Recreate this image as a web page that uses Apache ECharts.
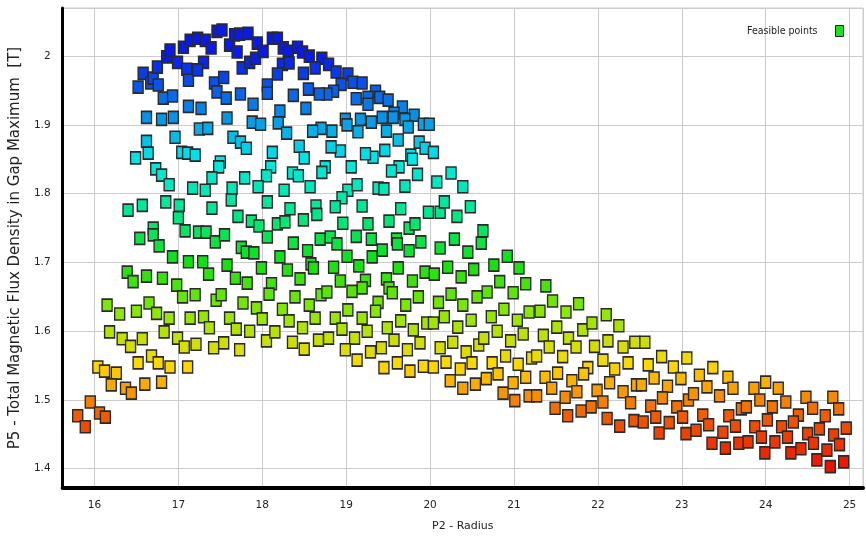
<!DOCTYPE html>
<html style="height: 100%">
<head>
<meta charset="utf-8">
<script src="https://cdn.jsdelivr.net/npm/echarts@6/dist/echarts.min.js"></script>
</head>
<body style="height: 100%; margin: 0; background: #fff">
<div id="main" style="width: 866px; height: 539px"></div>
<script type="text/javascript">
// [P2 - Radius, P5 - Flux density]
var leftTop = [
  [16.52,1.955],[16.58,1.975],[16.67,1.961],[16.70,1.968],[16.76,1.958],[16.75,1.984],[16.82,1.939],[16.93,1.942],
  [16.86,1.999],[16.90,2.009],[16.99,1.991],[17.06,2.013],[17.10,1.981],[17.12,1.965],[17.14,2.023],[17.23,2.026],
  [17.30,1.991],[17.23,1.980],[17.32,2.023],[17.39,2.012],[17.46,2.036],[17.52,2.038],[17.43,1.961],[17.46,1.948],
  [17.54,1.969],[17.57,1.939],[17.61,2.016],[17.67,2.031],[17.73,2.032],[17.83,2.033],[17.70,2.006],[17.76,1.983],
  [17.85,1.991],[17.92,1.997],[17.94,2.019],[18.01,2.007],[17.74,1.945],[17.89,1.930],[17.12,1.927],[17.27,1.924],
  [16.62,1.911],[16.80,1.908],[16.94,1.911],[17.25,1.894],[17.35,1.895],[17.58,1.910],[17.88,1.904],[17.98,1.901],
  [16.96,1.882],[16.62,1.876],[16.64,1.859],[16.49,1.852],[17.04,1.860],[17.11,1.859],[17.20,1.856],[17.65,1.882],
  [17.74,1.875],[17.81,1.866],[17.50,1.846],[17.48,1.839],[17.40,1.823],[16.73,1.836],[16.80,1.827],[17.79,1.823]
];
var rightTop = [
  [18.12,2.026],[18.18,2.026],[18.25,2.012],[18.31,2.007],[18.42,2.013],[18.48,2.006],[18.56,2.000],[18.71,1.997],
  [18.24,1.988],[18.32,1.990],[18.18,1.974],[18.49,1.975],[18.63,1.983],[18.79,1.988],[18.88,1.977],[19.02,1.974],
  [18.94,1.959],[19.08,1.962],[19.19,1.961],[18.85,1.949],[18.77,1.945],[18.68,1.945],[18.55,1.952],[18.37,1.943],
  [18.06,1.958],[18.06,1.946],[19.35,1.949],[19.40,1.940],[19.50,1.936],[19.26,1.940],[19.26,1.930],[19.12,1.938],
  [19.67,1.926],[19.57,1.917],[19.81,1.914],[19.70,1.908],[19.92,1.901],[19.99,1.901],[19.74,1.897],[19.56,1.911],
  [19.43,1.911],[19.30,1.904],[19.17,1.908],[18.99,1.908],[19.01,1.900],[19.14,1.890],[19.48,1.891],[18.83,1.891],
  [18.70,1.895],[18.60,1.891],[18.52,1.924],[18.21,1.920],[18.19,1.903],[18.29,1.888],[19.62,1.878],[19.87,1.875],
  [19.94,1.866],[20.04,1.860],[19.77,1.856],[19.79,1.850],[19.46,1.863],[19.32,1.853],[19.23,1.858],[18.93,1.862],
  [18.82,1.868],[18.44,1.869],[18.50,1.852],[18.12,1.860],[18.10,1.839],[18.75,1.839],[18.71,1.831],[19.06,1.839],
  [19.63,1.839],[19.54,1.833],[19.85,1.828],[18.36,1.830],[18.43,1.826],[18.05,1.826],[20.08,1.817]
];
var leftMid = [
  [16.89,1.813],[17.17,1.808],[17.32,1.805],[17.64,1.808],[17.95,1.810],
  [16.40,1.776],[16.57,1.783],[16.85,1.788],[17.01,1.783],[17.00,1.765],[17.40,1.779],[17.63,1.791],[17.71,1.767],
  [17.87,1.760],[17.96,1.753],
  [16.54,1.735],[16.70,1.750],[16.70,1.740],[16.77,1.724],[17.08,1.746],[17.24,1.744],[17.33,1.744],[17.44,1.730],
  [17.55,1.740],[17.75,1.722],[17.81,1.715],[17.90,1.714],
  [16.93,1.708],[17.12,1.701],[17.29,1.701],[17.36,1.683],[17.58,1.696],[17.68,1.677],[17.82,1.670],[17.99,1.692],
  [16.39,1.686],[16.46,1.672],[16.62,1.680],[16.81,1.677],[16.98,1.667],[17.05,1.650],[17.20,1.653],[17.45,1.645],
  [17.51,1.653],[17.77,1.641],[17.93,1.634],
  [16.15,1.638],[16.30,1.625],[16.50,1.629],[16.65,1.641],[16.74,1.626],[16.89,1.619],[17.14,1.619],[17.30,1.621],
  [17.37,1.605],[17.61,1.619],[17.69,1.603],[17.85,1.600],[18.00,1.618],
  [16.18,1.599],[16.33,1.589],[16.43,1.578],[16.57,1.589],[16.83,1.599],[16.99,1.590],[17.07,1.577],[17.21,1.581],
  [17.42,1.576],[17.54,1.583],[17.73,1.573],[18.05,1.586]
];
var centerMid = [
  [18.26,1.805],[18.57,1.810],[19.02,1.805],[19.13,1.813],[19.38,1.808],[19.45,1.807],[19.70,1.811],[18.95,1.794],
  [18.06,1.788],[18.33,1.778],[18.64,1.782],[18.65,1.770],[18.87,1.781],[19.19,1.782],[19.65,1.778],[19.98,1.773],
  [20.12,1.773],[18.18,1.756],[18.27,1.759],[18.49,1.762],[18.96,1.757],[19.26,1.756],[19.51,1.760],[19.75,1.750],
  [19.82,1.756],[18.06,1.737],[18.37,1.728],[18.69,1.734],[18.81,1.737],[18.89,1.727],[19.12,1.738],[19.30,1.734],
  [19.60,1.734],[19.61,1.727],[19.89,1.730],[19.75,1.717],[18.54,1.717],[19.01,1.709],[19.31,1.708],[19.43,1.718],
  [20.12,1.721],[18.21,1.708],[18.30,1.689],[18.58,1.698],[18.61,1.692],[18.85,1.693],[19.15,1.695],[19.62,1.692],
  [19.94,1.686],[20.05,1.683],[18.45,1.676],[18.93,1.673],[19.23,1.674],[19.19,1.663],[19.07,1.658],[19.48,1.676],
  [19.51,1.663],[19.55,1.656],[19.79,1.673],[18.11,1.669],[18.08,1.654],[18.39,1.650],[18.70,1.653],[18.77,1.657],
  [19.38,1.642],[19.71,1.638],[19.86,1.650],[20.10,1.642],[18.56,1.638],[18.24,1.632],[19.02,1.631],[19.35,1.629],
  [18.87,1.619],[19.19,1.619],[18.63,1.619],[18.32,1.615],[18.48,1.605],[18.95,1.603],[19.25,1.600],[19.49,1.605],
  [19.65,1.615],[19.80,1.602],[19.96,1.612],[20.04,1.612],[18.15,1.599],[18.36,1.584],[18.67,1.587],[18.79,1.590],
  [19.10,1.590],[19.42,1.576],[19.57,1.587],[19.73,1.573],[19.88,1.583],[18.99,1.573],[19.29,1.570],[20.12,1.576]
];
var lowerLeft = [
  [16.04,1.548],[16.12,1.542],[16.26,1.539],[16.20,1.522],[16.37,1.517],[16.44,1.510],[16.52,1.554],[16.68,1.564],
  [16.76,1.554],[16.90,1.548],[17.11,1.548],[16.60,1.523],[16.80,1.526],[15.95,1.497],[15.80,1.477],[15.89,1.461],
  [16.06,1.481],[16.13,1.475],[18.50,1.574],[19.13,1.558],[19.45,1.547],[19.61,1.554],[19.76,1.542],[19.92,1.549],
  [20.04,1.548]
];
var rightTail = [
  [20.25,1.830],[20.39,1.810],[20.17,1.788],[20.48,1.781],[20.32,1.767],[20.63,1.746],[20.61,1.728],[20.29,1.734],
  [20.45,1.715],[20.92,1.709],[20.76,1.696],[21.06,1.692],[20.21,1.693],[20.52,1.690],[20.37,1.679],[20.83,1.672],
  [21.14,1.669],[21.38,1.666],[20.68,1.657],[20.56,1.650],[20.99,1.656],[20.25,1.654],[20.39,1.638],[20.88,1.632],
  [21.46,1.644],[21.77,1.640],[21.18,1.628],[21.31,1.629],[21.62,1.628],[20.17,1.621],[20.49,1.616],[20.73,1.621],
  [21.04,1.616],[21.51,1.606],[21.82,1.602],[21.93,1.612],[22.10,1.624],[22.25,1.608],[20.33,1.606],[20.80,1.600],
  [21.11,1.596],[21.35,1.594],[21.65,1.590],[20.27,1.584],[20.58,1.580],[20.64,1.590],[20.96,1.586],[21.42,1.577],
  [21.74,1.577],[21.96,1.578],[22.12,1.586],[22.30,1.577],[22.44,1.584],[22.56,1.584],
  [20.19,1.555],[20.43,1.570],[20.36,1.545],[20.50,1.554],[20.74,1.554],[20.90,1.564],[21.05,1.552],[21.21,1.561],
  [21.27,1.564],[21.58,1.563],[20.24,1.528],[20.39,1.517],[20.54,1.523],[20.67,1.531],[20.81,1.538],[20.87,1.510],
  [20.99,1.525],[21.01,1.499],[21.14,1.533],[21.18,1.506],[21.27,1.506],[21.37,1.533],[21.45,1.517],[21.49,1.488],
  [21.52,1.539],[21.61,1.504],[21.64,1.477],[21.69,1.528],[21.75,1.512],
  [22.06,1.558],[22.36,1.554],[22.60,1.551],[22.76,1.563],[22.90,1.548],[23.06,1.561],[23.37,1.547],[21.88,1.547],
  [21.83,1.538],[22.20,1.545],[22.14,1.525],[22.46,1.522],[22.52,1.522],[22.67,1.532],[22.99,1.531],[23.21,1.536],
  [23.55,1.533],[21.99,1.514],[22.06,1.497],[22.30,1.512],[22.39,1.496],[22.63,1.491],[22.83,1.520],[22.77,1.503],
  [22.94,1.490],[23.08,1.500],[23.14,1.509],[23.30,1.519],[23.45,1.506],[23.61,1.517],[23.86,1.517],[24.00,1.526],
  [23.93,1.500],[24.15,1.517],[24.08,1.490],[24.24,1.497],[23.71,1.487],[23.77,1.490],[24.48,1.504],[24.56,1.488],
  [24.39,1.478],[24.33,1.468],[24.71,1.477],[24.80,1.504],[24.87,1.487],
  [21.80,1.484],[21.92,1.490],[22.11,1.473],[22.26,1.462],[22.43,1.470],[22.54,1.468],[22.69,1.475],[22.73,1.452],
  [22.85,1.467],[23.01,1.475],[23.05,1.451],[23.17,1.456],[23.25,1.478],[23.32,1.464],[23.36,1.437],[23.49,1.453],
  [23.52,1.430],[23.56,1.477],[23.64,1.462],[23.68,1.437],[23.79,1.439],[23.87,1.461],[23.95,1.446],[23.99,1.423],
  [24.02,1.471],[24.11,1.439],[24.19,1.461],[24.26,1.446],[24.30,1.423],[24.42,1.429],[24.50,1.451],[24.57,1.437],
  [24.64,1.458],[24.61,1.413],[24.73,1.427],[24.81,1.449],[24.88,1.435],[24.96,1.459],[24.77,1.403],[24.93,1.410]
];

var points = [].concat(leftTop, rightTop, leftMid, centerMid, lowerLeft, rightTail);
var labelFont = 'DejaVu Sans';
// colour stops, evenly spread from 1.40 (red) to 2.00 (blue)
var rampColors = ['#e81000', '#f05a00', '#ffd800', '#90e800', '#11e011', '#00e890', '#00e8e8', '#0a80e8', '#0a1ae8'];

var myChart = echarts.init(document.getElementById('main'));
myChart.setOption({
    backgroundColor: '#ffffff',
    animation: false,
    grid: {
        left: 62, right: 3, top: 8, bottom: 51,
        show: true, borderColor: '#cccccc', borderWidth: 1
    },
    legend: {
        right: 17, top: 20, align: 'right',
        itemWidth: 8, itemHeight: 11,
        data: [{
            name: 'Feasible points', icon: 'rect',
            itemStyle: { color: '#22dd22', borderColor: '#222', borderWidth: 1 }
        }],
        textStyle: {
            fontFamily: 'DejaVu Sans Condensed, sans-serif',
            fontSize: 10.5, color: '#222', padding: [0, 13, 0, 0]
        }
    },
    visualMap: {
        show: false,
        type: 'continuous',
        dimension: 1,
        min: 1.4,
        max: 2.0,
        inRange: { color: rampColors }
    },
    xAxis: {
        type: 'value',
        min: 15.62, max: 25.16, splitNumber: 9,
        name: 'P2 - Radius', nameLocation: 'middle', nameGap: 33,
        nameTextStyle: { fontFamily: labelFont, fontSize: 11, color: '#222' },
        axisLine: { show: true, onZero: false, lineStyle: { color: '#000', width: 4 } },
        axisTick: { show: false },
        splitLine: { show: true, lineStyle: { color: '#cccccc', width: 1 } },
        axisLabel: {
            margin: 12, fontSize: 10.5, color: '#222', fontFamily: labelFont,
            formatter: function (v) { return Math.abs(v - Math.round(v)) < 1e-6 ? String(Math.round(v)) : ''; }
        }
    },
    yAxis: {
        type: 'value',
        min: 1.372, max: 2.07, splitNumber: 7,
        name: 'P5 - Total Magnetic Flux Density in Gap Maximum  [T]',
        nameLocation: 'middle', nameGap: 36,
        nameTextStyle: { fontFamily: labelFont, fontSize: 15, color: '#222' },
        axisLine: { show: true, onZero: false, lineStyle: { color: '#000', width: 3 } },
        axisTick: { show: false },
        splitLine: { show: true, lineStyle: { color: '#cccccc', width: 1 } },
        axisLabel: {
            margin: 12, fontSize: 10.5, color: '#222', fontFamily: labelFont,
            formatter: function (v) {
                var t = Math.round(v * 10);
                return Math.abs(v * 10 - t) < 1e-6 ? String(t / 10) : '';
            }
        }
    },
    series: [{
        name: 'Feasible points',
        type: 'scatter',
        symbol: 'rect',
        symbolSize: [10, 12],
        data: points,
        itemStyle: { color: '#22dd22', borderColor: '#2a2a2a', borderWidth: 1.5, opacity: 1 },
        emphasis: { disabled: true }
    }]
});
</script>
</body>
</html>
